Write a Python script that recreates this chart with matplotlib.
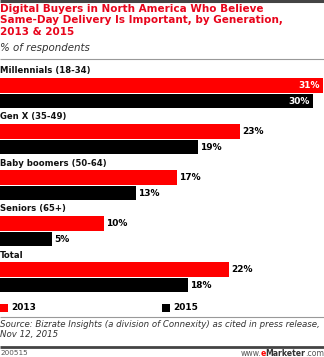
import matplotlib
matplotlib.use("Agg")
import matplotlib.pyplot as plt
from matplotlib.patches import Rectangle

# data
groups = ["Millennials (18-34)", "Gen X (35-49)", "Baby boomers (50-64)",
          "Seniors (65+)", "Total"]
v2013 = [31, 23, 17, 10, 22]
v2015 = [30, 19, 13, 5, 18]
series = ["2013", "2015"]

RED = "#ff0000"
TRED = "#e8051c"

W, H = 324, 357
fig = plt.figure(figsize=(W / 100, H / 100), dpi=100)
ax = fig.add_axes([0, 0, 1, 1])
ax.set_xlim(0, 31.06)
ax.set_ylim(H, 0)
ax.axis("off")

fam = ["DejaVu Sans"]
ppx = 31.06 / W  # data units per pixel in x


def hline(y, lw, c):
    ax.plot([0, 31.06], [y, y], color=c, lw=lw, solid_capstyle="butt")


hline(1, 2.2, "#444444")
hline(58.5, 0.8, "#999999")
hline(317, 0.8, "#999999")
hline(346.5, 2.0, "#444444")

ax.text(0, 3.5, "Digital Buyers in North America Who Believe\n"
        "Same-Day Delivery Is Important, by Generation,\n2013 & 2015",
        color=TRED, fontsize=7.5, fontweight="bold", va="top", ha="left",
        family=fam, linespacing=1.22)
ax.text(0, 43, "% of respondents", fontsize=7.4, style="italic",
        color="#333333", va="top", family=fam)

pitch = 46
for i, g in enumerate(groups):
    yl = 71 + pitch * i
    yr = 85.5 + pitch * i
    yb = 101 + pitch * i
    ax.text(0, yl, g, fontsize=6.1, fontweight="bold", va="center",
            family=fam, color="#111111")
    ax.barh(yr, v2013[i], height=15, color=RED, left=0)
    ax.barh(yb, v2015[i], height=14, color="black", left=0)
    for v, y in ((v2013[i], yr), (v2015[i], yb)):
        if v >= 29:
            ax.text(v - 3 * ppx, y, f"{v}%", color="white", fontsize=6.5,
                    fontweight="bold", va="center", ha="right", family=fam)
        else:
            ax.text(v + 2 * ppx, y, f"{v}%", color="black", fontsize=6.5,
                    fontweight="bold", va="center", ha="left", family=fam)

# legend
for x0, c, lab in ((0, RED, series[0]), (162, "black", series[1])):
    ax.add_patch(Rectangle((x0 * ppx, 304), 8 * ppx, 8, color=c, lw=0))
    ax.text((x0 + 11) * ppx, 308, lab, fontsize=6.5, fontweight="bold",
            va="center", family=fam)

ax.text(0, 320, "Source: Bizrate Insights (a division of Connexity) as cited in press release,\n"
        "Nov 12, 2015", fontsize=6.2, style="italic", color="#333333",
        va="top", family=fam, linespacing=1.1)

ax.text(0, 353, "200515", fontsize=5.2, color="#555555", va="center", family=fam)

# footer brand, chained right to left
prev = ax.text(31.06, 353, ".com", fontsize=5.6, color="#555555",
               va="center", ha="right", family=fam)
for s, w, c in (("Marketer", "bold", "#333333"), ("e", "bold", RED),
                ("www.", "normal", "#555555")):
    prev = ax.annotate(s, xy=(0, 0.5), xycoords=prev, xytext=(0.5, 0),
                       textcoords="offset pixels", fontsize=5.6,
                       fontweight=w, color=c, va="center", ha="right",
                       family=fam)

fig.savefig("out.png", dpi=100)
